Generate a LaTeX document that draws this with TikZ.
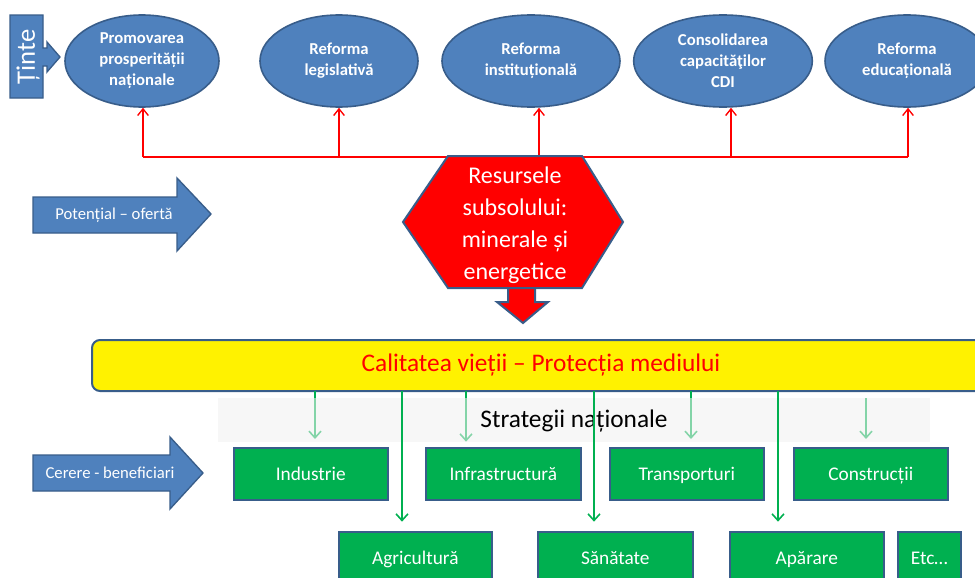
\documentclass[tikz,border=0pt]{standalone}
\usepackage{fontspec}
\setmainfont{Carlito}
\usetikzlibrary{shapes.geometric,arrows.meta}
\definecolor{officeblue}{RGB}{79,129,189}
\definecolor{edgeblue}{RGB}{56,93,138}
\definecolor{boxgreen}{RGB}{0,176,80}
\definecolor{linkred}{RGB}{255,0,0}
\definecolor{paleband}{RGB}{242,242,242}
\begin{document}
\begin{tikzpicture}[x=0.75pt,y=-0.75pt,
  goal/.style={ellipse, draw=edgeblue, line width=1.2pt, fill=officeblue,
    text=white, font=\bfseries\fontsize{12.5}{15.8}\selectfont, align=center,
    inner sep=0pt, minimum height=69pt},
  sector/.style={draw=edgeblue, line width=1.2pt, fill=boxgreen, text=white,
    font=\fontsize{14.5}{16}\selectfont, minimum height=39pt, inner sep=0pt,
    text height=11.5pt, text depth=1.5pt, anchor=north west},
  blockarrow/.style={draw=edgeblue, line width=1pt, fill=officeblue},
  blocklabel/.style={text=white, font=\fontsize{12.5}{14}\selectfont, inner sep=0pt},
  uplink/.style={draw=linkred, line width=1pt, -{Straight Barb[length=5pt,width=8pt]}},
  redline/.style={draw=linkred, line width=1pt},
  downlink/.style={draw=boxgreen, line width=1.2pt, -{Straight Barb[length=5pt,width=9pt]}}
]
\clip (0,0) rectangle (975,578);
\fill[white] (0,0) rectangle (975,578);

% --- goals (top row) ---
\draw[blockarrow] (10,15) -- (43,15) -- (43,48) -- (47,48) -- (47,42) -- (60,57)
  -- (47,72) -- (47,66) -- (43,66) -- (43,98) -- (10,98) -- cycle;
\node[rotate=90, text=white, font=\fontsize{20}{22}\selectfont, inner sep=0pt] (tinte) at (28,57) {Ținte};

\node[goal, minimum width=115.5pt] (g1) at (142,61) {Promovarea\\prosperității\\naționale};
\node[goal, minimum width=118.5pt] (g2) at (339,61) {Reforma\\legislativă};
\node[goal, minimum width=133.5pt] (g3) at (531,61) {Reforma\\instituțională};
\node[goal, minimum width=134pt]   (g4) at (723,61) {Consolidarea\\capacităţilor\\CDI};
\node[goal, minimum width=123pt]   (g5) at (907,61) {Reforma\\educațională};

% --- red distribution line ---
\coordinate (r1) at (143,157);
\coordinate (r2) at (339,157);
\coordinate (r3) at (539,157);
\coordinate (r4) at (731,157);
\coordinate (r5) at (908,157);
\draw[redline] (r1) -- (r5);
\draw[uplink] (r1) -- (r1 |- g1.south);
\draw[uplink] (r2) -- (r2 |- g2.south);
\draw[uplink] (r3) -- (r3 |- g3.south);
\draw[uplink] (r4) -- (r4 |- g4.south);
\draw[uplink] (r5) -- (r5 |- g5.south);

% --- resources hexagon with down arrow ---
\draw[draw=edgeblue, line width=1.5pt, fill=red]
  (508,286) -- (535,286) -- (535,302) -- (548,302) -- (523,323) -- (497,302) -- (508,302) -- cycle;
\draw[draw=edgeblue, line width=1.5pt, fill=red]
  (448,156) -- (582,156) -- (623,222) -- (582,288) -- (448,288) -- (403,222) -- cycle;
\node[text=white, align=center, font=\fontsize{18}{24}\selectfont] (res) at (515,225)
  {Resursele\\subsolului:\\minerale și\\energetice};

% --- offer arrow ---
\draw[blockarrow] (33,197) -- (177,197) -- (177,178) -- (211,214) -- (177,251) -- (177,233) -- (33,233) -- cycle;
\node[blocklabel] (offer) at (114,215) {Potențial – ofertă};

% --- quality of life bar ---
\node[draw=edgeblue, line width=1.5pt, fill=yellow, rounded corners=6pt,
  minimum width=673.5pt, minimum height=38.25pt, inner sep=0pt,
  text=red, font=\fontsize{19}{21}\selectfont] (quality) at (541,365.5)
  {Calitatea vieții – Protecția mediului};

% --- sectors ---
\node[sector, minimum width=115.5pt]  (ind)   at (233,447) {Industrie};
\node[sector, minimum width=116.25pt] (infra) at (425,447) {Infrastructură};
\node[sector, minimum width=115.5pt]  (trans) at (609,447) {Transporturi};
\node[sector, minimum width=115.5pt]  (cons)  at (793,447) {Construcții};
\node[sector, minimum width=114.75pt] (agri)  at (338,531) {Agricultură};
\node[sector, minimum width=116.25pt] (san)   at (537,531) {Sănătate};
\node[sector, minimum width=115.5pt]  (apar)  at (729,531) {Apărare};
\node[sector, minimum width=47.25pt]  (etc)   at (897,531) {Etc…};

% short links to the first row
\coordinate (s1) at (315,391);
\coordinate (s2) at (466,391);
\coordinate (s3) at (691,391);
\coordinate (s4) at (866,398);
\draw[downlink, shorten >=6pt] (s1) -- (s1 |- ind.north);
\draw[downlink, shorten >=4pt] (s2) -- (s2 |- infra.north);
\draw[downlink, shorten >=6pt] (s3) -- (s3 |- trans.north);
\draw[downlink, shorten >=6pt] (s4) -- (s4 |- cons.north);

% pale band behind the heading
\fill[paleband, fill opacity=0.55] (218,398) rectangle (930,442);
\node[font=\fontsize{19}{21}\selectfont, inner sep=0pt] (strat) at (574,421) {Strategii naționale};

% long links to the second row
\coordinate (l1) at (402,391);
\coordinate (l2) at (594,391);
\coordinate (l3) at (778,391);
\draw[downlink, shorten >=7pt] (l1) -- (l1 |- agri.north);
\draw[downlink, shorten >=7pt] (l2) -- (l2 |- san.north);
\draw[downlink, shorten >=7pt] (l3) -- (l3 |- apar.north);

% --- demand arrow ---
\draw[blockarrow] (33,455) -- (170,455) -- (170,437) -- (203,473) -- (170,509) -- (170,491) -- (33,491) -- cycle;
\node[blocklabel] (demand) at (110,473) {Cerere - beneficiari};
\end{tikzpicture}
\end{document}
